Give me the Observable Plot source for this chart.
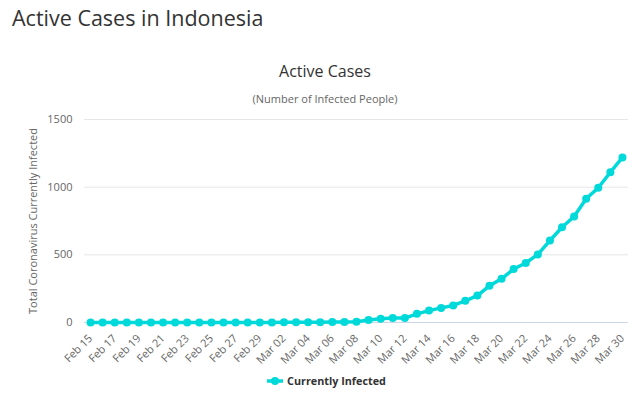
<!DOCTYPE html>
<html><head><meta charset="utf-8">
<script src="https://cdn.jsdelivr.net/npm/d3@7"></script>
<script src="https://cdn.jsdelivr.net/npm/@observablehq/plot@0.6"></script>
<style>
body{margin:0;background:#fff;font-family:"Open Sans",sans-serif;}
#wrap{position:relative;width:640px;height:398px;overflow:hidden;background:#fff}
#chart{position:absolute;left:0;top:0}
.t{position:absolute;white-space:nowrap;line-height:1}
#title{left:12px;top:7px;font-size:21.5px;color:#333}
#ctitle{left:0;width:650px;text-align:center;top:63px;font-size:16px;color:#333}
#sub{left:0;width:650px;text-align:center;top:93px;font-size:11px;color:#666}
#legend{left:266px;top:376px;font-size:10.8px;font-weight:bold;color:#333;display:flex;align-items:center}
#legend svg{margin-right:3px}
</style></head><body>
<div id="wrap">
<div id="chart"></div>
<div class="t" id="title">Active Cases in Indonesia</div>
<div class="t" id="ctitle">Active Cases</div>
<div class="t" id="sub">(Number of Infected People)</div>
<div class="t" id="legend"><svg width="18" height="10"><line x1="1" y1="5" x2="17" y2="5" stroke="#00d9d9" stroke-width="3.5"/><circle cx="9" cy="5" r="4" fill="#00d9d9"/></svg><span>Currently Infected</span></div>
</div>
<script>
const dates = [
  "2020-02-15","2020-02-16","2020-02-17","2020-02-18","2020-02-19","2020-02-20","2020-02-21","2020-02-22",
  "2020-02-23","2020-02-24","2020-02-25","2020-02-26","2020-02-27","2020-02-28","2020-02-29","2020-03-01",
  "2020-03-02","2020-03-03","2020-03-04","2020-03-05","2020-03-06","2020-03-07","2020-03-08","2020-03-09",
  "2020-03-10","2020-03-11","2020-03-12","2020-03-13","2020-03-14","2020-03-15","2020-03-16","2020-03-17",
  "2020-03-18","2020-03-19","2020-03-20","2020-03-21","2020-03-22","2020-03-23","2020-03-24","2020-03-25",
  "2020-03-26","2020-03-27","2020-03-28","2020-03-29","2020-03-30"
];
const activeCases = [
  0,0,0,0,0,0,0,0,
  0,0,0,0,0,0,0,0,
  2,2,2,2,4,4,6,19,
  27,33,33,64,88,108,126,160,
  199,271,323,395,440,503,605,704,
  783,914,996,1110,1220
];
const xTickDates = [
  "2020-02-15","2020-02-17","2020-02-19","2020-02-21","2020-02-23","2020-02-25","2020-02-27","2020-02-29",
  "2020-03-02","2020-03-04","2020-03-06","2020-03-08","2020-03-10","2020-03-12","2020-03-14","2020-03-16",
  "2020-03-18","2020-03-20","2020-03-22","2020-03-24","2020-03-26","2020-03-28","2020-03-30"
];
const yTicks = [0, 500, 1000, 1500];
const yLabel = "Total Coronavirus Currently Infected";
const seriesColor = "#00d9d9";

const data = dates.map((d, i) => ({date: new Date(d + "T00:00:00Z"), value: activeCases[i]}));
const xt = xTickDates.map(d => new Date(d + "T00:00:00Z"));
const first = new Date(dates[0] + "T00:00:00Z");
const last = new Date(dates[dates.length - 1] + "T00:00:00Z");
const half = 12 * 3600 * 1000;

const chart = Plot.plot({
  width: 640,
  height: 398,
  marginLeft: 84,
  marginRight: 12,
  marginTop: 119,
  marginBottom: 76,
  style: {fontFamily: "'Open Sans', sans-serif", background: "transparent"},
  x: {type: "utc", domain: [new Date(+first - half), new Date(+last + half)]},
  y: {domain: [0, 1500]},
  marks: [
    Plot.gridY(yTicks.filter(d => d > 0), {stroke: "#e6e6e6", strokeOpacity: 1}),
    Plot.ruleY([0], {stroke: "#ccd6eb"}),
    Plot.axisY(yTicks, {tickSize: 0, tickPadding: 12, fontSize: 11, fill: "#666", label: null, tickFormat: d => String(d)}),
    Plot.axisX(xt, {tickSize: 0, tickPadding: 14, tickRotate: -45, fontSize: 11, fill: "#666", label: null, tickFormat: d3.utcFormat("%b %d")}),
    Plot.text([yLabel], {text: d => d, frameAnchor: "left", textAnchor: "middle", dx: -51, rotate: -90, fontSize: 11, fill: "#666"}),
    Plot.line(data, {x: "date", y: "value", stroke: seriesColor, strokeWidth: 3.5}),
    Plot.dot(data, {x: "date", y: "value", r: 4, fill: seriesColor})
  ]
});
document.getElementById("chart").appendChild(chart);
</script>
</body></html>
